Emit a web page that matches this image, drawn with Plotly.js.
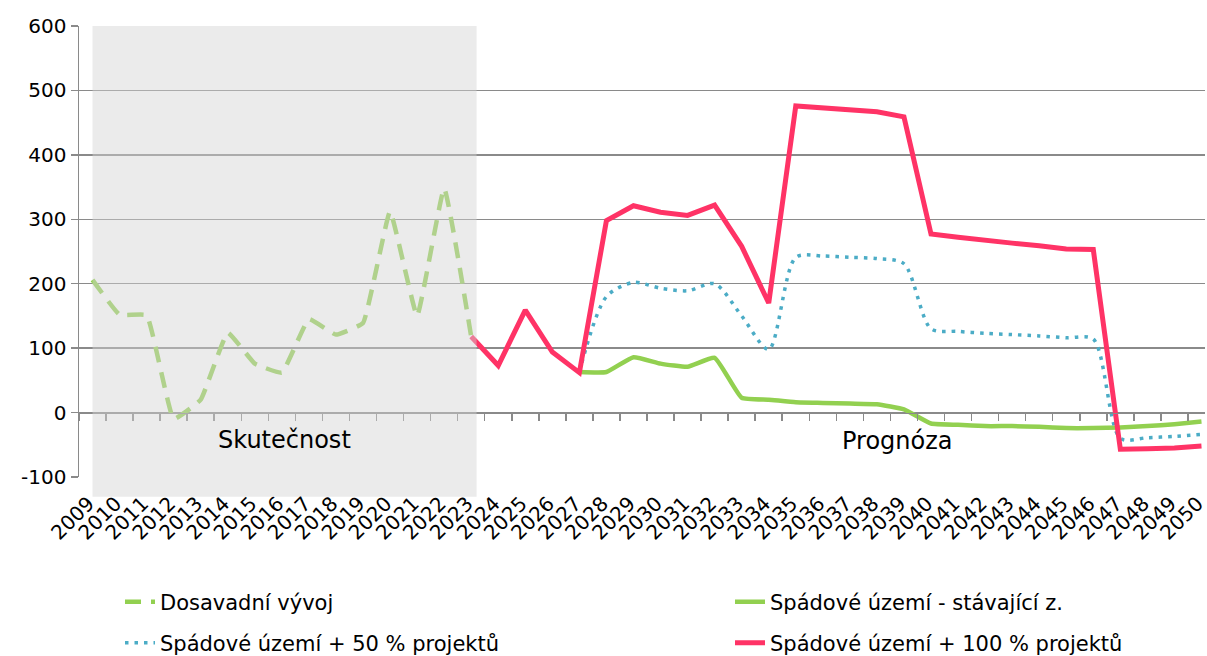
<!DOCTYPE html>
<html>
<head>
<meta charset="utf-8">
<script src="https://cdn.plot.ly/plotly-3.0.1.min.js"></script>
<style>
  html, body { margin: 0; padding: 0; background: #ffffff; }
  #chart { width: 1207px; height: 656px; }
</style>
</head>
<body>
<div id="chart"></div>
<script>
// ---- Data ----
const years = [2009, 2010, 2011, 2012, 2013, 2014, 2015, 2016, 2017, 2018, 2019, 2020, 2021, 2022, 2023,
               2024, 2025, 2026, 2027, 2028, 2029, 2030, 2031, 2032, 2033, 2034, 2035, 2036, 2037, 2038,
               2039, 2040, 2041, 2042, 2043, 2044, 2045, 2046, 2047, 2048, 2049, 2050];

const dosavadniVyvoj = [206, 152, 151, -10, 20, 124, 76, 62, 145, 121, 139, 312, 150, 348, 118,
  null, null, null, null, null, null, null, null, null, null, null, null, null, null, null,
  null, null, null, null, null, null, null, null, null, null, null, null];

const stavajici = [null, null, null, null, null, null, null, null, null, null, null, null, null, null, null,
  null, null, null, 63, 63, 86, 76, 71, 85, 23, 20, 16, 15, 14, 13,
  5, -17, -19, -21, -21, -22, -24, -24, -23, -21, -18, -14];

const projekty50 = [null, null, null, null, null, null, null, null, null, null, null, null, null, null, null,
  null, null, null, 63, 180, 202, 193, 189, 200, 150, 98, 241, 243, 241, 239,
  231, 130, 126, 123, 121, 119, 116, 114, -40, -39, -37, -34];

const projekty100 = [null, null, null, null, null, null, null, null, null, null, null, null, null, null, 118,
  73, 159, 94, 62, 298, 321, 311, 306, 322, 258, 170, 476, 473, 471, 467,
  459, 277, 272, 267, 263, 259, 254, 253, -57, -56, -55, -52];

const seriesNames = ['Dosavadní vývoj', 'Spádové území - stávající z.',
                     'Spádové území + 50 % projektů', 'Spádové území + 100 % projektů'];
const yTickValues = [-100, 0, 100, 200, 300, 400, 500, 600];
const yTickLabels = ['-100', '0', '100', '200', '300', '400', '500', '600'];
const periodLabels = ['Skutečnost', 'Prognóza'];
const actualFrom = 2009, actualTo = 2023;

// ---- Styling ----
const FONT = 'DejaVu Sans, Verdana, sans-serif';
const GRID = '#8a8a8a';
const cGreenDash = '#92d050', cGreen = '#92d050', cBlue = '#4bacc6', cRed = '#ff3366';

const traces = [
  { x: years, y: dosavadniVyvoj, name: seriesNames[0], type: 'scatter', mode: 'lines',
    line: { color: cGreenDash, width: 4.5, dash: '16px,10px', shape: 'spline', smoothing: 0.3 },
    legend: 'legend' },
  { x: years, y: stavajici, name: seriesNames[1], type: 'scatter', mode: 'lines',
    line: { color: cGreen, width: 4.5, shape: 'spline', smoothing: 0.4 },
    legend: 'legend2' },
  { x: years, y: projekty50, name: seriesNames[2], type: 'scatter', mode: 'lines',
    line: { color: cBlue, width: 3.5, dash: '3.5px,6px', shape: 'spline', smoothing: 0.8 },
    legend: 'legend3' },
  { x: years, y: projekty100, name: seriesNames[3], type: 'scatter', mode: 'lines',
    xaxis: 'x2', yaxis: 'y',
    line: { color: cRed, width: 5 },
    legend: 'legend4' }
];

const legendBase = {
  xref: 'container', yref: 'container', xanchor: 'left', yanchor: 'middle',
  orientation: 'h', bgcolor: 'rgba(0,0,0,0)', borderwidth: 0,
  font: { family: FONT, size: 21, color: '#000' }
};

const layout = {
  width: 1207, height: 656,
  margin: { l: 79, r: 2, t: 26, b: 179, autoexpand: false },
  paper_bgcolor: '#ffffff', plot_bgcolor: '#ffffff',
  font: { family: FONT, size: 20, color: '#000' },
  showlegend: true,
  xaxis: {
    type: 'linear', range: [2008.5, 2050.13], tick0: 2009, dtick: 1,
    tickangle: -45, ticks: '', showgrid: false, showline: false, zeroline: false,
    tickfont: { family: FONT, size: 20, color: '#000' },
    ticklabelstandoff: 10, ticklabelshift: -4, ticklabeloverflow: 'allow'
  },
  xaxis2: {
    type: 'linear', overlaying: 'x', matches: 'x', anchor: 'free', position: 100 / 700,
    tickmode: 'linear', tick0: 2008.5, dtick: 1, ticks: 'outside', ticklen: 7,
    tickcolor: GRID, tickwidth: 1.5, showticklabels: false,
    showline: true, linecolor: GRID, linewidth: 1.5, showgrid: false, zeroline: false
  },
  yaxis: {
    range: [-100, 600], tickmode: 'array', tickvals: yTickValues, ticktext: yTickLabels,
    ticks: 'outside', ticklen: 7, tickcolor: GRID, tickwidth: 1.5,
    showline: true, linecolor: GRID, linewidth: 1.5,
    gridcolor: GRID, gridwidth: 1.5, zeroline: false,
    tickfont: { family: FONT, size: 20, color: '#000' }
  },
  shapes: [
    { type: 'rect', xref: 'x', yref: 'paper', x0: actualFrom, x1: actualTo + 0.2,
      y0: -0.044, y1: 1, layer: 'above', line: { width: 0 },
      fillcolor: 'rgba(211,211,211,0.46)' }
  ],
  annotations: [
    { x: 2016.1, y: -42, xref: 'x', yref: 'y', text: periodLabels[0], showarrow: false,
      font: { family: FONT, size: 24, color: '#000' } },
    { x: 2038.76, y: -44, xref: 'x', yref: 'y', text: periodLabels[1], showarrow: false,
      font: { family: FONT, size: 24, color: '#000' } }
  ],
  legend:  Object.assign({}, legendBase, { x: 120 / 1207, y: 1 - 602 / 656 }),
  legend2: Object.assign({}, legendBase, { x: 730 / 1207, y: 1 - 602 / 656 }),
  legend3: Object.assign({}, legendBase, { x: 120 / 1207, y: 1 - 643 / 656 }),
  legend4: Object.assign({}, legendBase, { x: 730 / 1207, y: 1 - 643 / 656 })
};

Plotly.newPlot('chart', traces, layout, { displayModeBar: false, staticPlot: true });
</script>
</body>
</html>
